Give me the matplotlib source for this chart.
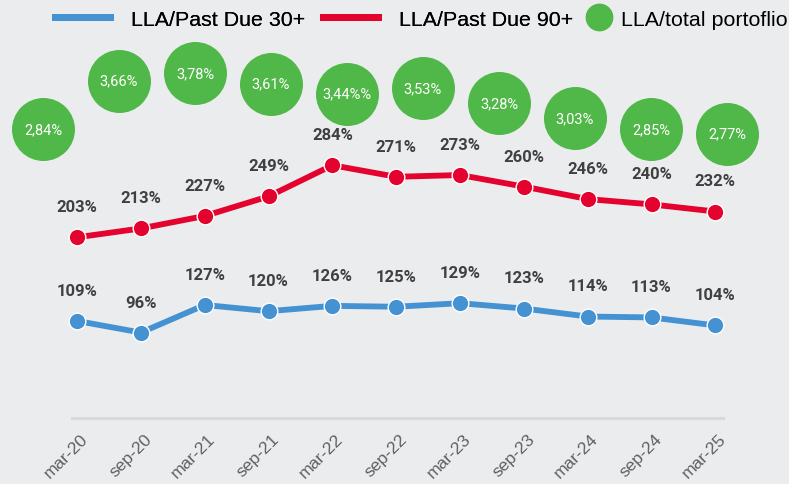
import matplotlib
matplotlib.use("Agg")
import matplotlib.pyplot as plt
from matplotlib.lines import Line2D
from matplotlib.transforms import ScaledTranslation

# ---- data ----
dates = ["mar-20", "sep-20", "mar-21", "sep-21", "mar-22", "sep-22",
         "mar-23", "sep-23", "mar-24", "sep-24", "mar-25"]
pd30 = [109, 96, 127, 120, 126, 125, 129, 123, 114, 113, 104]
pd90 = [203, 213, 227, 249, 284, 271, 273, 260, 246, 240, 232]
total_vals = [2.84, 3.66, 3.78, 3.61, 3.44, 3.53, 3.28, 3.03, 2.85, 2.77]
total_labels = ["2,84%", "3,66%", "3,78%", "3,61%", "3,44%%", "3,53%",
                "3,28%", "3,03%", "2,85%", "2,77%"]

BG = "#EBECEE"
BLUE = "#4592D3"
RED = "#E4032E"
GREEN = "#50B848"
LBL = "#404040"

W, H = 789, 485
fig = plt.figure(figsize=(W / 100, H / 100), dpi=100, facecolor=BG)

# main axes for the two lines
ax = fig.add_axes([72 / W, 66 / H, 651 / W, 419 / H])
ax.set_facecolor(BG)
x = list(range(len(dates)))
ax.set_xlim(-0.08, 10.12)
ax.set_ylim(0, 419 / 0.89)
for s in ["top", "right", "left"]:
    ax.spines[s].set_visible(False)
ax.spines["bottom"].set_color("#D9D9D9")
ax.spines["bottom"].set_linewidth(2.2)
ax.set_yticks([])
ax.set_xticks(x)
ax.set_xticklabels(dates, rotation=45, ha="right", va="top",
                   rotation_mode="anchor", fontsize=12.5, color="#606060",
                   family="Liberation Sans")
ax.tick_params(axis="x", length=0, pad=9)
offset = ScaledTranslation(3 / 100, 0, fig.dpi_scale_trans)
for lab in ax.get_xticklabels():
    lab.set_transform(lab.get_transform() + offset)

ax.plot(x, pd30, color=BLUE, lw=4.2, marker="o", ms=12, mfc=BLUE,
        mec="white", mew=1.0, zorder=3, clip_on=False)
ax.plot(x, pd90, color=RED, lw=4.2, marker="o", ms=12, mfc=RED,
        mec="white", mew=1.0, zorder=3, clip_on=False)

for xi, v in zip(x, pd30):
    ax.annotate(f"{v}%", (xi, v), xytext=(0, 22), textcoords="offset points",
                ha="center", va="center", fontsize=12, fontweight="bold",
                color=LBL, family="Roboto")
for xi, v in zip(x, pd90):
    ax.annotate(f"{v}%", (xi, v), xytext=(0, 22), textcoords="offset points",
                ha="center", va="center", fontsize=12, fontweight="bold",
                color=LBL, family="Roboto")

# bubble axes
bx = fig.add_axes([0, 0, 1, 1])
bx.set_facecolor("none")
bx.axis("off")
bx.set_xlim(-43 / 76, (W - 43) / 76)
bx.set_ylim(3.279 - (H - 104.3) / 59.6, 3.279 + 104.3 / 59.6)
bi = list(range(len(total_vals)))
bx.scatter(bi, total_vals, s=(63 * 0.72) ** 2, color=GREEN, zorder=4,
           linewidths=0)
for xi, v, t in zip(bi, total_vals, total_labels):
    bx.text(xi, v, t, ha="center", va="center", fontsize=10.5,
            color="white", family="Roboto", zorder=5)

# legend
h1 = Line2D([], [], color=BLUE, lw=5)
h2 = Line2D([], [], color=RED, lw=5)
leg1 = fig.legend([h1, h2], ["LLA/Past Due 30+", "LLA/Past Due 90+"],
                  loc="center left", bbox_to_anchor=(55 / W, 1 - 20 / H),
                  ncol=2, frameon=False,
                  prop={"family": "Liberation Sans", "size": 15.4},
                  handlelength=2.57, handletextpad=0.98, columnspacing=0.84,
                  borderpad=0, borderaxespad=0)
fig.add_artist(leg1)
h3 = Line2D([], [], color=GREEN, lw=0, marker="o", ms=19)
leg2 = fig.legend([h3], ["LLA/total portoflio"],
                  loc="center left", bbox_to_anchor=(586 / W, 1 - 20 / H),
                  frameon=False,
                  prop={"family": "Liberation Sans", "size": 15.4},
                  handlelength=1.17, handletextpad=0.47,
                  borderpad=0, borderaxespad=0)

fig.savefig("out.png", dpi=100, facecolor=BG)
